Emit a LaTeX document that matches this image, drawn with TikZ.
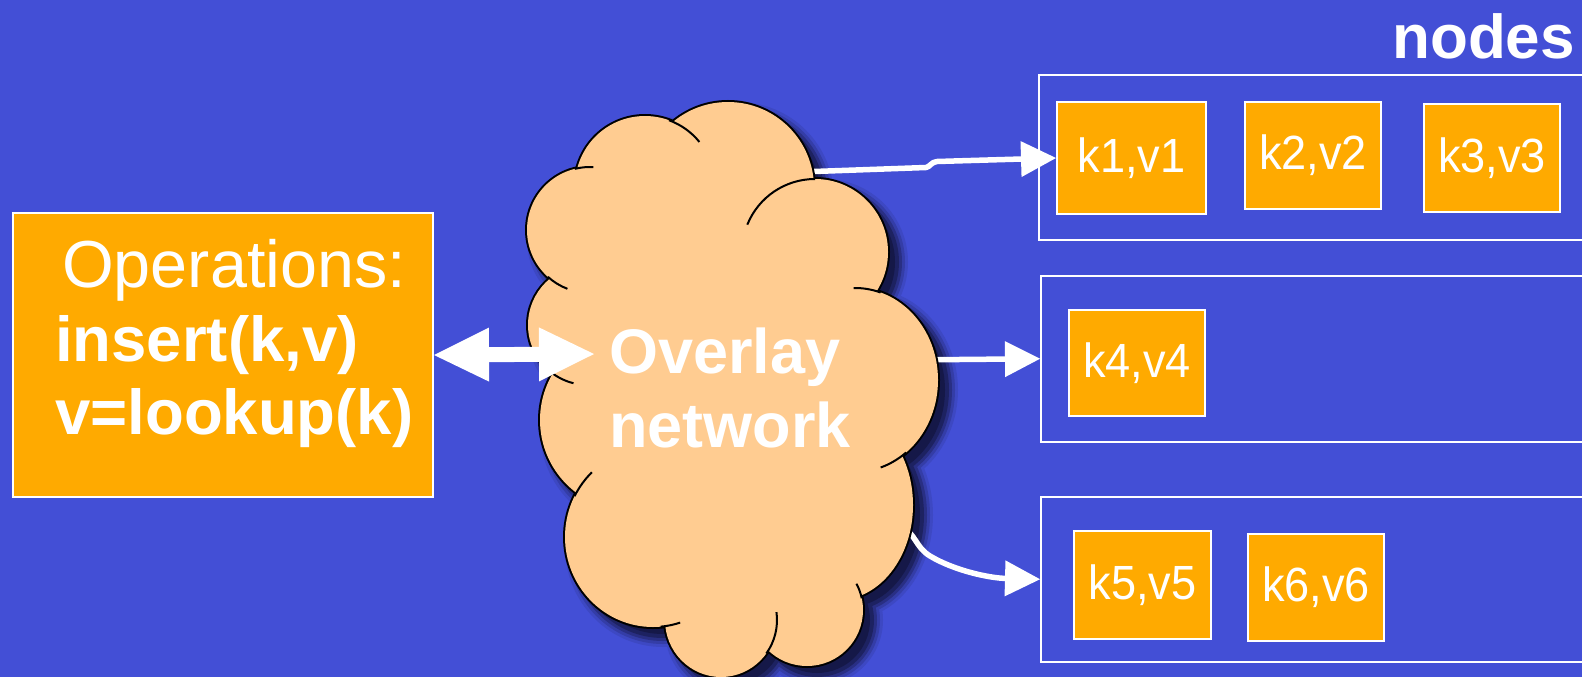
\documentclass[tikz,border=0pt]{standalone}
\usepackage{fontspec}
\setmainfont{Liberation Sans}
\usepackage{graphicx}
\usetikzlibrary{arrows.meta}

\definecolor{slide}{RGB}{67,79,214}
\definecolor{amber}{RGB}{255,170,0}
\definecolor{cloudfill}{RGB}{255,204,145}
\definecolor{shade}{RGB}{16,18,56}

% the eleven lobes of the cloud, each radius grown by #1 (in pt)
\newcommand\cloudlobes[1]{%
  (590,230) ellipse [x radius={63pt+(#1)*1pt}, y radius={63pt+(#1)*1pt}]
  (645,186) ellipse [x radius={70pt+(#1)*1pt}, y radius={70pt+(#1)*1pt}]
  (728,188) ellipse [x radius={86pt+(#1)*1pt}, y radius={86pt+(#1)*1pt}]
  (815,252) ellipse [x radius={73pt+(#1)*1pt}, y radius={73pt+(#1)*1pt}]
  (855,380) ellipse [x radius={83pt+(#1)*1pt}, y radius={92pt+(#1)*1pt}]
  (838,505) ellipse [x radius={75pt+(#1)*1pt}, y radius={95pt+(#1)*1pt}]
  (807,610) ellipse [x radius={56pt+(#1)*1pt}, y radius={56pt+(#1)*1pt}]
  (721,620) ellipse [x radius={56pt+(#1)*1pt}, y radius={57pt+(#1)*1pt}]
  (653,537) ellipse [x radius={88pt+(#1)*1pt}, y radius={90pt+(#1)*1pt}]
  (631,420) ellipse [x radius={91pt+(#1)*1pt}, y radius={91pt+(#1)*1pt}]
  (588,325) ellipse [x radius={60pt+(#1)*1pt}, y radius={60pt+(#1)*1pt}]
}
% the core of the cloud, joining the lobe centres
\newcommand\cloudcore{%
  (590,230) -- (645,186) -- (728,188) -- (815,252) -- (855,380) -- (838,505)
  -- (807,610) -- (721,620) -- (653,537) -- (631,420) -- (588,325) -- cycle
}
% short inner arc where one lobe runs on past its neighbour
\newcommand\lobetick[6]{%
  \draw[lobeline] (#1,#2) ++(#5:#3pt and #4pt)
    arc[start angle=#5, end angle=#6, x radius=#3pt, y radius=#4pt];
}

\begin{document}
\begin{tikzpicture}[x=1pt, y=1pt, yscale=-1,
  opbox/.style={draw=white, line width=2pt, fill=amber, inner sep=0pt},
  kbox/.style={draw=white, line width=2pt, fill=amber, inner sep=0pt,
    text=white, font=\fontsize{48}{58}\selectfont},
  grpbox/.style={draw=white, line width=2pt, inner sep=0pt},
  optext/.style={text=white, inner sep=0pt, font=\fontsize{66.5}{78}\selectfont},
  opbold/.style={text=white, inner sep=0pt, font=\fontsize{63.5}{76}\selectfont\bfseries},
  cloudtext/.style={text=white, inner sep=0pt, font=\fontsize{63}{75}\selectfont\bfseries},
  lobeline/.style={black, line width=2pt},
  link/.style={white, line width=5.5pt,
    -{Triangle[length=35pt, width=36pt, line width=0pt]}},
  biarrow/.style={white, line width=15pt,
    {Triangle[length=55pt, width=54pt, line width=0pt]}-{Triangle[length=55pt, width=54pt, line width=0pt]}}
]
\useasboundingbox (0,0) rectangle (1582,677);
\clip (0,0) rectangle (1582,677);
\fill[slide] (0,0) rectangle (1582,677);

% operations box
\node[opbox, minimum width=420pt, minimum height=284pt] (ops) at (223,355) {};
\node[optext, anchor=base west] (op1) at (62,287) {Operations:};
\node[opbold, anchor=base west] (op2) at (55,361) {insert(k,v)};
\node[opbold, anchor=base west] (op3) at (55,434) {v=lookup(k)};

% storage nodes
\node[text=white, inner sep=0pt, font=\fontsize{62}{72}\selectfont\bfseries,
  anchor=base east] (title) at (1575,59) {nodes};
\node[grpbox, minimum width=562pt, minimum height=165pt] (grp1) at (1320,157.5) {};
\node[grpbox, minimum width=559pt, minimum height=166.5pt] (grp2) at (1320.5,358.75) {};
\node[grpbox, minimum width=559pt, minimum height=165.5pt] (grp3) at (1320.5,579.25) {};

\node[kbox, minimum width=149pt, minimum height=112pt] (k1) at (1131.5,158) {\scalebox{0.94}[1]{k1,v1}};
\node[kbox, minimum width=136pt, minimum height=107pt] (k2) at (1313,155.5) {\scalebox{0.94}[1]{k2,v2}};
\node[kbox, minimum width=136pt, minimum height=108pt] (k3) at (1492,158) {\scalebox{0.94}[1]{k3,v3}};
\node[kbox, minimum width=136pt, minimum height=106pt] (k4) at (1137,363) {\scalebox{0.94}[1]{k4,v4}};
\node[kbox, minimum width=137pt, minimum height=108pt] (k5) at (1142.5,585) {\scalebox{0.94}[1]{k5,v5}};
\node[kbox, minimum width=136pt, minimum height=107pt] (k6) at (1316,587.5) {\scalebox{0.94}[1]{k6,v6}};

% soft drop shadow of the cloud, darkest nearest the cloud
\begin{scope}[shift={(10,10)}]
  \fill[shade!12!slide] \cloudlobes{10};
  \fill[shade!30!slide] \cloudlobes{7};
  \fill[shade!52!slide] \cloudlobes{4};
  \fill[shade!74!slide] \cloudlobes{1};
  \fill[shade!90!slide] \cloudlobes{-3};
\end{scope}

% links leaving the overlay
\coordinate (out1) at (800,172);
\coordinate (out2) at (905,360);
\coordinate (out3) at (900,526);
\coordinate (ovlin) at (594,354);

\draw[link] (out1) -- (926,167.5) .. controls (930,167) and (931,162) .. (937,161.5) -- (k1.west);
\draw[link] (out2) -- (grp2.west);
\draw[link] (out3) .. controls (916,533) and (915,547) .. (930,556)
  .. controls (955,571) and (990,578) .. (grp3.west);

% the cloud
\draw[black, line width=4pt] \cloudlobes{0};
\fill[cloudfill] \cloudlobes{0};
\fill[cloudfill] \cloudcore;
\lobetick{590}{230}{63}{63}{-104}{-87}
\lobetick{645}{186}{70}{70}{-70}{-39}
\lobetick{815}{252}{73}{73}{-158}{-90}
\lobetick{855}{380}{83}{92}{-91}{-72}
\lobetick{855}{380}{83}{92}{52}{72}
\lobetick{807}{610}{56}{56}{-28}{-12}
\lobetick{721}{620}{56}{57}{-8}{36}
\lobetick{653}{537}{88}{90}{85}{72}
\lobetick{653}{537}{88}{90}{-153}{-134}
\lobetick{588}{325}{60}{60}{128}{104}
\lobetick{590}{230}{63}{63}{132}{111}

\node[cloudtext, anchor=base] (ovl1) at (725,373) {Overlay};
\node[cloudtext, anchor=base] (ovl2) at (730,447) {network};

% request/response between the operations and the overlay
\draw[biarrow] (ops.east) -- (ovlin);
\end{tikzpicture}
\end{document}
